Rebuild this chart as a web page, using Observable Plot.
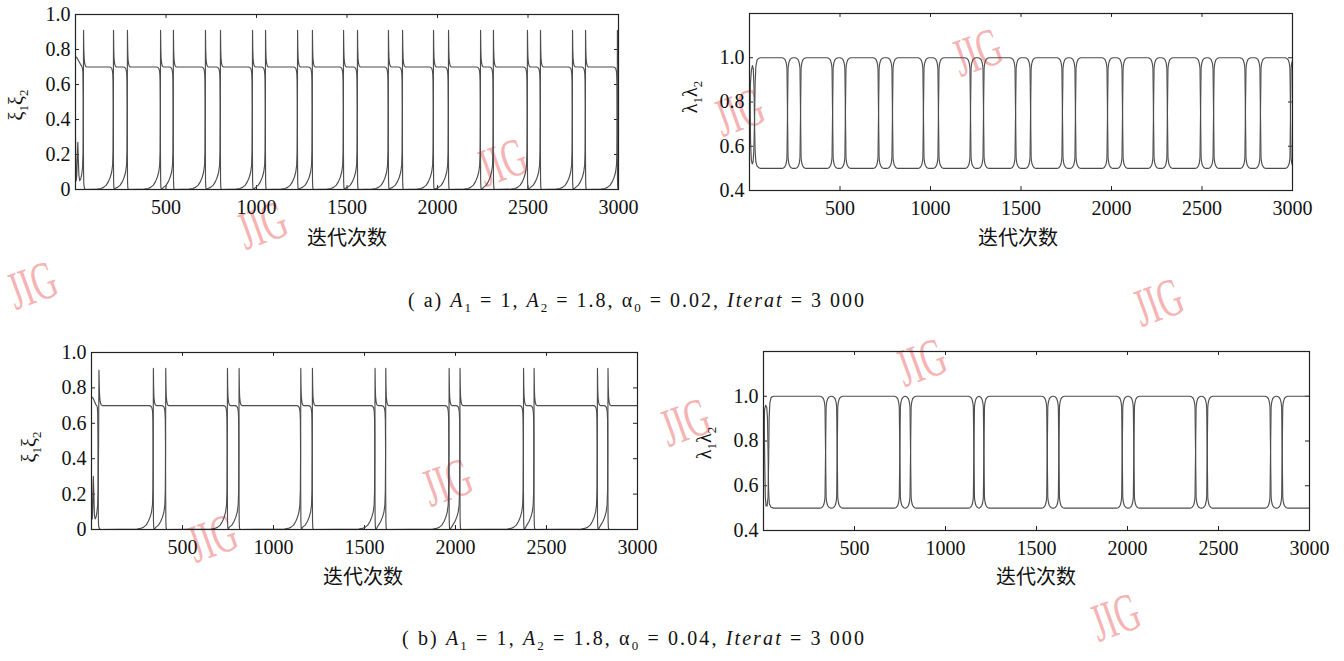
<!DOCTYPE html>
<html><head><meta charset="utf-8">
<script src="https://cdn.jsdelivr.net/npm/d3@7"></script>
<script src="https://cdn.jsdelivr.net/npm/@observablehq/plot@0.6"></script>
<style>
html,body{margin:0;padding:0;background:#fff;}
body{width:1344px;height:661px;overflow:hidden;position:relative;font-family:"Liberation Serif","Times New Roman",serif;color:#111;}
.wm{position:absolute;font-family:"Liberation Serif",serif;font-size:54px;color:#f6b3b3;white-space:nowrap;transform:translate(-50%,-50%) rotate(-20deg) scaleX(0.62);line-height:1;}
.xlab{position:absolute;font-family:"Noto Sans CJK SC",sans-serif;font-size:20px;white-space:nowrap;transform:translate(-50%,-50%);line-height:1;color:#111;}
.ylab{position:absolute;font-family:"Liberation Serif","Times New Roman",serif;font-size:20px;white-space:nowrap;transform:translate(-50%,-50%) rotate(-90deg);line-height:1;color:#111;}
.ylab sub{font-size:13px;}
.cap{position:absolute;font-family:"Liberation Serif","Times New Roman",serif;font-size:20px;white-space:nowrap;transform:translateY(-50%);line-height:1;color:#111;}
.cap sub{font-size:13px;}
svg{position:absolute;}
</style>
</head><body>
<script>
// ---------------- data ----------------
const xTicks = [500, 1000, 1500, 2000, 2500, 3000];
const xiTicks = [0, 0.2, 0.4, 0.6, 0.8, 1.0];
const lamTicks = [0.4, 0.6, 0.8, 1.0];

// switching iterations (events) of each panel
const eventsXiA  = [210, 287, 470, 541, 718, 801, 978, 1050, 1227, 1309, 1481, 1558, 1729, 1807, 1978, 2061, 2238, 2309, 2497, 2569, 2746, 2818, 2994];
const eventsLamA = [210, 282, 459, 530, 713, 790, 961, 1044, 1221, 1293, 1470, 1553, 1729, 1801, 1978, 2061, 2232, 2309, 2492, 2564, 2740, 2823, 2989];
const eventsXiB  = [340, 408, 747, 811, 1150, 1214, 1558, 1617, 1965, 2025, 2374, 2432, 2780, 2838];
const eventsLamB = [341, 405, 749, 808, 1156, 1211, 1559, 1623, 1971, 2035, 2374, 2438, 2786, 2850];

// shape of one switch: [offset in iterations, value]
const xiRise = [[-90,0.002],[-70,0.006],[-55,0.012],[-40,0.025],[-28,0.045],[-18,0.07],[-10,0.1],[-5,0.14],[-2.5,0.22],[-1,0.45],[0,0.91],[1.5,0.8],[3,0.75],[6,0.72],[10,0.705],[16,0.7]];
const xiFall = [[-22,0.7],[-14,0.697],[-9,0.69],[-6,0.678],[-4,0.66],[-2.5,0.62],[-1.5,0.5],[-0.5,0.2],[0.5,0.05],[2,0.01],[5,0]];
const lamDown = [[-30,1.0],[-22,0.998],[-16,0.994],[-11,0.987],[-7,0.976],[-4.5,0.963],[-3,0.95],[0,0.75],[3,0.55],[4.5,0.537],[7,0.524],[11,0.513],[16,0.506],[22,0.502],[30,0.5]];
const lamUp = [[-30,0.5],[-22,0.502],[-16,0.506],[-11,0.513],[-7,0.524],[-4.5,0.537],[-3,0.55],[0,0.75],[3,0.95],[4.5,0.963],[7,0.976],[11,0.987],[16,0.994],[22,0.998],[30,1.0]];

// start-up transients
const xiInitA1 = [[0,0.76],[6,0.755],[12,0.745],[20,0.73],[28,0.715],[34,0.705],[38,0.695],[41,0.67],[42.5,0.55],[43.5,0.3],[44.5,0.1],[46,0.03],[50,0.005],[56,0]];
const xiInitA2 = [[0,0.3],[2,0.12],[4,0.05],[7,0.08],[10,0.18],[13,0.27],[16,0.16],[19,0.08],[23,0.05],[29,0.06],[35,0.09],[39,0.13],[42,0.22],[43.5,0.5],[44.5,0.91],[46,0.8],[48,0.75],[51,0.72],[55,0.705],[62,0.7]];
const xiInitB1 = [[0,0.75],[6,0.745],[12,0.735],[18,0.72],[24,0.705],[29,0.7],[32,0.69],[34,0.66],[35.5,0.5],[36.5,0.25],[37.5,0.08],[39,0.02],[44,0.004],[50,0]];
const xiInitB2 = [[0,0.28],[2,0.1],[4,0.06],[7,0.12],[10,0.3],[13,0.2],[16,0.08],[20,0.06],[25,0.07],[30,0.1],[34,0.14],[37,0.24],[39,0.5],[41,0.9],[43,0.8],[45,0.75],[48,0.72],[53,0.705],[60,0.7]];
const lamInitA1 = [[0,0.9],[3,0.8],[6,0.62],[10,0.54],[15,0.52],[20,0.53],[24,0.58],[28,0.72],[31,0.88],[35,0.96],[42,0.99],[52,0.998],[60,1.0]];
const lamInitA2 = [[0,0.6],[2,0.75],[5,0.88],[10,0.94],[16,0.965],[21,0.95],[25,0.86],[28,0.7],[31,0.58],[35,0.53],[42,0.51],[52,0.503],[60,0.5]];
const lamInitB1 = [[0,0.93],[4,0.9],[7,0.7],[10,0.55],[14,0.51],[20,0.51],[25,0.55],[28,0.7],[31,0.9],[35,0.97],[42,0.995],[55,1.0]];
const lamInitB2 = [[0,0.6],[3,0.85],[6,0.94],[12,0.96],[18,0.95],[22,0.9],[25,0.75],[28,0.58],[32,0.52],[40,0.505],[55,0.5]];

// ---------------- build line tables ----------------
function buildLine(init, events, startHigh, upProf, downProf) {
  const pts = init.map(([t, v]) => ({t, v}));
  let high = startHigh;
  let last = pts[pts.length - 1].t;
  for (const e of events) {
    const prof = high ? downProf : upProf;
    for (const [dt, v] of prof) {
      const t = e + dt;
      if (t > last) { pts.push({t, v}); last = t; }
    }
    high = !high;
  }
  if (last < 3000) pts.push({t: 3000, v: pts[pts.length - 1].v}); // plateau runs on to the right edge
  return pts;
}

const panels = [
  { left: 30, top: 0, w: 610, h: 225, mL: 45, mR: 22, mT: 14, mB: 36,
    yDomain: [0, 1], yTicks: xiTicks, yFmt: d => d === 0 ? "0" : d.toFixed(1),
    lines: [buildLine(xiInitA1, eventsXiA, false, xiRise, xiFall), buildLine(xiInitA2, eventsXiA, true, xiRise, xiFall)] },
  { left: 710, top: 0, w: 620, h: 225, mL: 39, mR: 38, mT: 13, mB: 35,
    yDomain: [0.4, 1.2], yTicks: lamTicks, yFmt: d => d.toFixed(1),
    lines: [buildLine(lamInitA1, eventsLamA, true, lamUp, lamDown), buildLine(lamInitA2, eventsLamA, false, lamUp, lamDown)] },
  { left: 45, top: 335, w: 615, h: 225, mL: 46, mR: 23, mT: 17, mB: 31,
    yDomain: [0, 1], yTicks: xiTicks, yFmt: d => d === 0 ? "0" : d.toFixed(1),
    lines: [buildLine(xiInitB1, eventsXiB, false, xiRise, xiFall), buildLine(xiInitB2, eventsXiB, true, xiRise, xiFall)] },
  { left: 720, top: 335, w: 624, h: 225, mL: 43, mR: 35, mT: 16, mB: 30,
    yDomain: [0.4, 1.2], yTicks: lamTicks, yFmt: d => d.toFixed(1),
    lines: [buildLine(lamInitB1, eventsLamB, true, lamUp, lamDown), buildLine(lamInitB2, eventsLamB, false, lamUp, lamDown)] }
];

// ---------------- watermarks (behind) ----------------
const wmPos = [[502,162],[262,225],[32,285],[977,52],[739,112],[1158,302],[921,362],[685,422],[447,482],[212,538],[1115,617]];
for (const [x, y] of wmPos) {
  const d = document.createElement("div");
  d.className = "wm"; d.textContent = "JIG";
  d.style.left = x + "px"; d.style.top = y + "px";
  document.body.appendChild(d);
}

// ---------------- plots ----------------
const serif = "Liberation Serif, Times New Roman, serif";
for (const c of panels) {
  const [y0, y1] = c.yDomain;
  const dy = (y1 - y0) * 0.022;
  const innerX = xTicks.filter(d => d < 3000);
  const innerY = c.yTicks.filter(d => d > y0 && d < y1);
  const svg = Plot.plot({
    width: c.w, height: c.h,
    marginLeft: c.mL, marginRight: c.mR, marginTop: c.mT, marginBottom: c.mB,
    x: {domain: [0, 3000]},
    y: {domain: c.yDomain},
    style: {background: "transparent", fontFamily: serif, overflow: "visible", color: "#111"},
    marks: [
      Plot.ruleX(innerX, {x: d => d, y1: y0, y2: y0 + dy, stroke: "#222"}),
      Plot.ruleX(innerX, {x: d => d, y1: y1, y2: y1 - dy, stroke: "#222"}),
      Plot.ruleY(innerY, {y: d => d, x1: 0, x2: 22, stroke: "#222"}),
      Plot.ruleY(innerY, {y: d => d, x1: 2978, x2: 3000, stroke: "#222"}),
      ...c.lines.map(pts => Plot.line(pts, {x: "t", y: "v", stroke: "#4d4d4d", strokeWidth: 1.15, clip: true})),
      Plot.frame({stroke: "#222", strokeWidth: 1.2}),
      Plot.axisX(xTicks, {tickSize: 0, tickPadding: 10, fontSize: 20, fontFamily: serif, tickFormat: d => String(d), label: null}),
      Plot.axisY(c.yTicks, {tickSize: 0, tickPadding: 5, fontSize: 20, fontFamily: serif, tickFormat: c.yFmt, label: null})
    ]
  });
  svg.style.position = "absolute";
  svg.style.left = c.left + "px";
  svg.style.top = c.top + "px";
  svg.style.maxWidth = "none";
  svg.querySelectorAll("text").forEach(t => t.setAttribute("font-family", serif));
  document.body.appendChild(svg);
}

// ---------------- labels ----------------
function addHTML(cls, html, x, y) {
  const d = document.createElement("div");
  d.className = cls; d.innerHTML = html;
  d.style.left = x + "px"; d.style.top = y + "px";
  document.body.appendChild(d);
  return d;
}
const xLabel = "迭代次数";
addHTML("xlab", xLabel, 347, 237);
addHTML("xlab", xLabel, 1018, 237);
addHTML("xlab", xLabel, 363, 576);
addHTML("xlab", xLabel, 1036, 576);
const xiLabel = "ξ<sub>1</sub>ξ<sub>2</sub>";
const lamLabel = "λ<sub>1</sub>λ<sub>2</sub>";
addHTML("ylab", xiLabel, 18, 105);
addHTML("ylab", lamLabel, 692, 97);
addHTML("ylab", xiLabel, 31, 447);
addHTML("ylab", lamLabel, 706, 443);
const caps = [
  ["( a) <i>A</i><sub>1</sub> = 1, <i>A</i><sub>2</sub> = 1.8, α<sub>0</sub> = 0.02, <i>Iterat</i> = 3 000", 408, 302, 458],
  ["( b) <i>A</i><sub>1</sub> = 1, <i>A</i><sub>2</sub> = 1.8, α<sub>0</sub> = 0.04, <i>Iterat</i> = 3 000", 402, 640, 464]
];
for (const [html, x, y, target] of caps) {
  const d = addHTML("cap", html, x, y);
  const n = d.textContent.length;
  const w = d.getBoundingClientRect().width;
  d.style.letterSpacing = Math.max(0, (target - w) / n) + "px";
}
</script>
</body></html>
